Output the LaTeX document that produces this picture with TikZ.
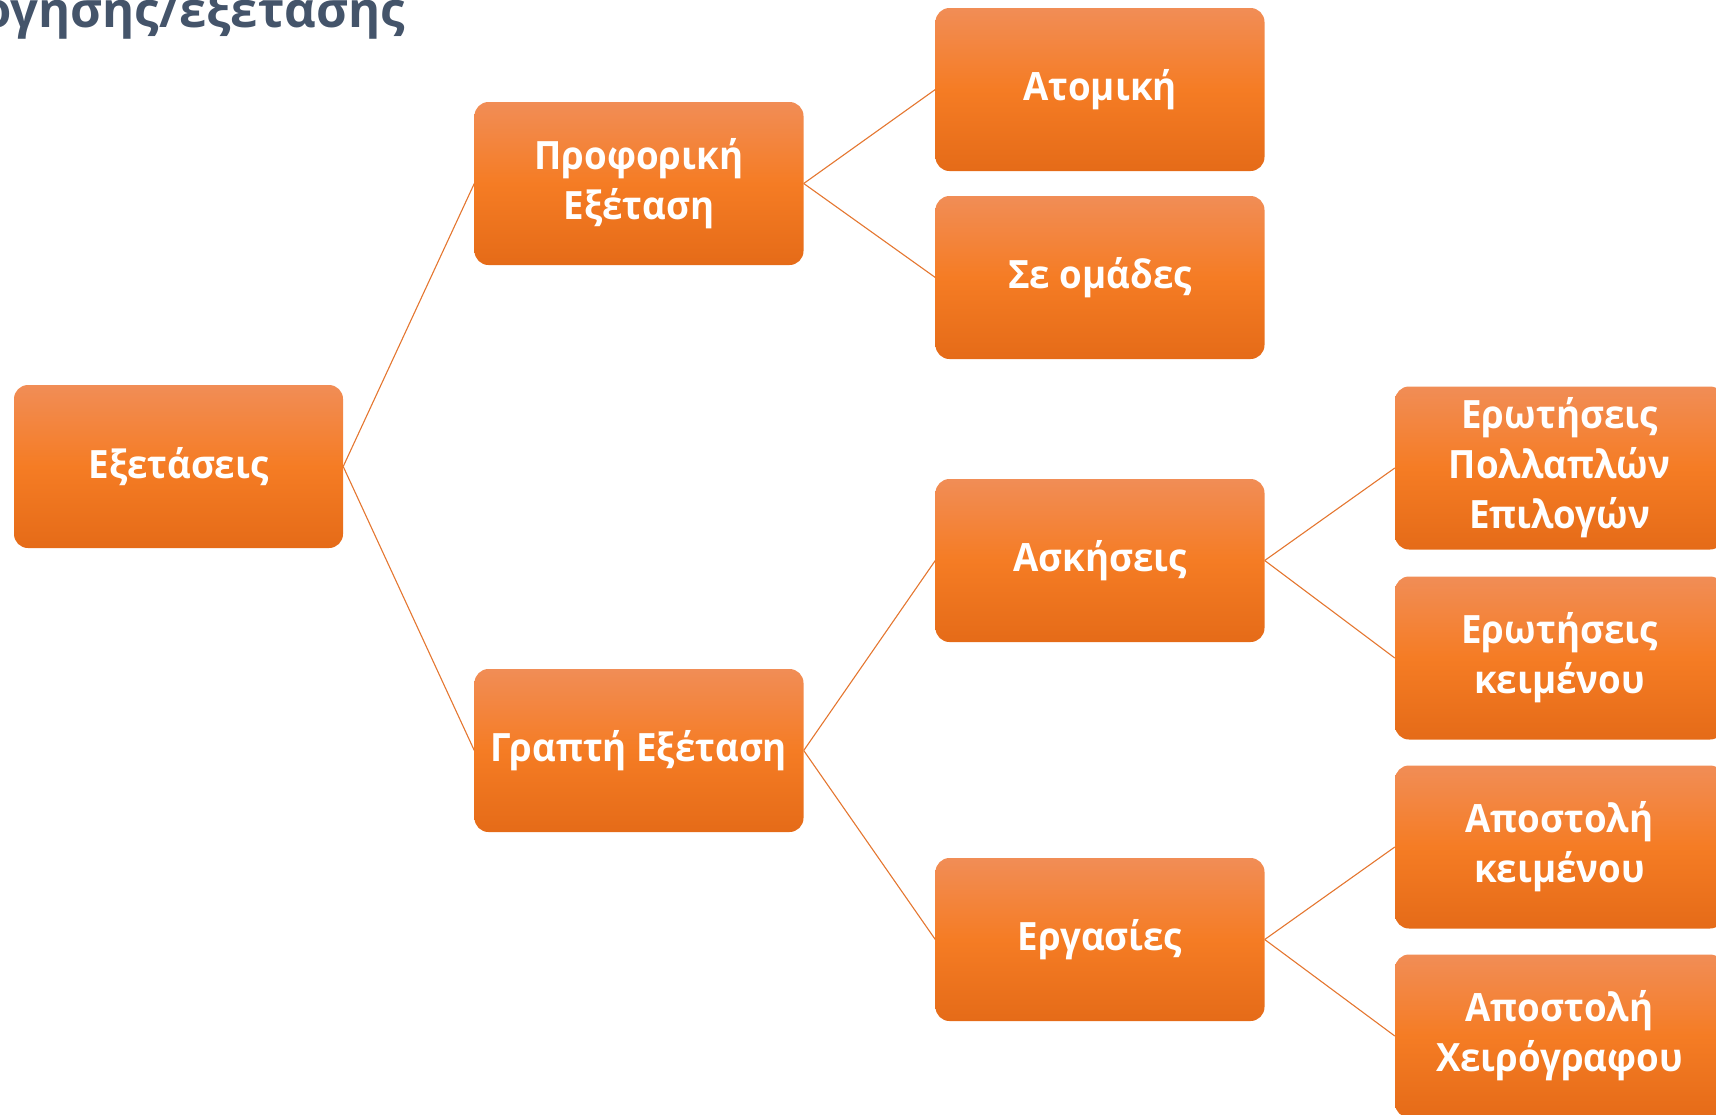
\documentclass[tikz,border=0pt]{standalone}
\usepackage{fontspec}
\setmainfont{Open Sans}
\newfontfamily\kutijafont[FakeStretch=0.94]{Open Sans}
\usepackage{tikz}

\definecolor{gorevrh}{RGB}{241,141,86}
\definecolor{gosred}{RGB}{245,124,36}
\definecolor{godno}{RGB}{229,107,24}
\definecolor{crta}{RGB}{228,118,48}
\definecolor{naslov}{RGB}{68,84,106}

\tikzset{
  okvir/.style={rounded corners=14pt, minimum width=329pt, minimum height=163pt, inner sep=0pt,
    top color=gorevrh, bottom color=godno, middle color=gosred, draw=none,
    text=white, align=center, font=\kutijafont\bfseries\fontsize{39}{50}\selectfont},
  veza/.style={crta, line width=1.1pt}
}

\begin{document}
\begin{tikzpicture}[x=1pt,y=-1pt]
\useasboundingbox (0,0) rectangle (1716,1114);
\clip (0,0) rectangle (1716,1114);

%naslov (odrezan)
\node (naslov) [anchor=base east, inner sep=0pt, text=naslov, font=\bfseries\fontsize{49}{60}\selectfont] at (405,27) {αξιολόγησης/εξέτασης};

%prvi stupac
\node (ispit) [okvir] at (178.5,466.5) {Εξετάσεις};

%drugi stupac
\node (usmeni) [okvir] at (639,183.5) {Προφορική\\Εξέταση};
\node (pismeni) [okvir] at (639,750.5) {Γραπτή Εξέταση};

%treci stupac
\node (atomiki) [okvir] at (1100,89.5) {Ατομική};
\node (omades) [okvir] at (1100,277.5) {Σε ομάδες};
\node (askiseis) [okvir] at (1100,560.5) {Ασκήσεις};
\node (ergasies) [okvir] at (1100,939.5) {Εργασίες};

%cetvrti stupac (desno odrezan)
\node (pollaplon) [okvir] at (1559.5,468) {Ερωτήσεις\\Πολλαπλών\\Επιλογών};
\node (keimenou) [okvir] at (1559.5,658) {Ερωτήσεις\\κειμένου};
\node (apostoli) [okvir] at (1559.5,847) {Αποστολή\\κειμένου};
\node (xeirografo) [okvir] at (1559.5,1036) {Αποστολή\\Χειρόγραφου};

%veze
\draw [veza] (ispit.east)--(usmeni.west);
\draw [veza] (ispit.east)--(pismeni.west);
\draw [veza] (usmeni.east)--(atomiki.west);
\draw [veza] (usmeni.east)--(omades.west);
\draw [veza] (pismeni.east)--(askiseis.west);
\draw [veza] (pismeni.east)--(ergasies.west);
\draw [veza] (askiseis.east)--(pollaplon.west);
\draw [veza] (askiseis.east)--(keimenou.west);
\draw [veza] (ergasies.east)--(apostoli.west);
\draw [veza] (ergasies.east)--(xeirografo.west);

\end{tikzpicture}
\end{document}
